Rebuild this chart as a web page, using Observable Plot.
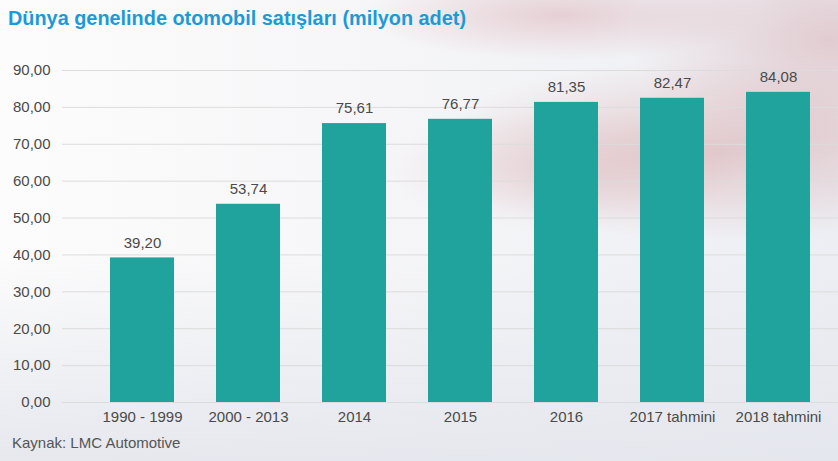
<!DOCTYPE html>
<html>
<head>
<meta charset="utf-8">
<script src="https://cdn.jsdelivr.net/npm/d3@7"></script>
<script src="https://cdn.jsdelivr.net/npm/@observablehq/plot@0.6"></script>
<style>
  html, body { margin: 0; padding: 0; }
  #wrap {
    position: relative; width: 838px; height: 461px; overflow: hidden;
    font-family: "Liberation Sans", Arial, sans-serif;
    background:
      radial-gradient(ellipse 200px 45px at 560px 15px, rgba(215,165,172,0.45), rgba(215,165,172,0) 100%),
      radial-gradient(ellipse 300px 90px at 720px 150px, rgba(205,140,142,0.40), rgba(205,140,142,0) 100%),
      radial-gradient(ellipse 200px 120px at 830px 40px, rgba(205,140,145,0.35), rgba(205,140,145,0) 100%),
      radial-gradient(ellipse 180px 60px at 560px 170px, rgba(210,160,165,0.25), rgba(210,160,165,0) 100%),
      linear-gradient(to bottom, rgba(255,255,255,0) 55%, rgba(228,230,237,0.9) 100%),
      linear-gradient(to right, #fcfcfc 0%, #f6f6f8 45%, #eceef3 100%);
  }
  #title {
    position: absolute; left: 8px; top: 6px;
    font-weight: bold; font-size: 21px; color: #1d9ad6;
    white-space: nowrap; transform-origin: 0 0;
  }
  #chart { position: absolute; left: 0; top: 40px; }
  #caption {
    position: absolute; left: 12px; top: 434px;
    font-size: 15px; color: #555;
  }
</style>
</head>
<body>
<div id="wrap">
  <div id="title">Dünya genelinde otomobil satışları (milyon adet)</div>
  <div id="chart"></div>
  <div id="caption">Kaynak: LMC Automotive</div>
</div>
<script>
const categories = ["1990 - 1999", "2000 - 2013", "2014", "2015", "2016", "2017 tahmini", "2018 tahmini"];
const values = [39.20, 53.74, 75.61, 76.77, 81.35, 82.47, 84.08];
const yTicks = [0, 10, 20, 30, 40, 50, 60, 70, 80, 90];

const data = categories.map((c, i) => ({category: c, value: values[i]}));
const fmt = v => v.toFixed(2).replace(".", ",");

// fit title width
const title = document.getElementById("title");
const tw = title.getBoundingClientRect().width;
title.style.transform = `scaleX(${458 / tw})`;

const chart = Plot.plot({
  width: 838,
  height: 390,
  marginLeft: 62,
  marginRight: 0,
  marginTop: 30,
  marginBottom: 28,
  style: {background: "transparent", fontFamily: "Liberation Sans, Arial, sans-serif", fontSize: "15px", color: "#4a4a4a"},
  x: {domain: categories, range: [86.7, 833.3], paddingInner: 0.4, paddingOuter: 0.2, label: null},
  y: {domain: [0, 90], label: null},
  marks: [
    Plot.ruleY(yTicks, {stroke: "#dcdcdc", strokeWidth: 1}),
    Plot.barY(data, {x: "category", y: "value", fill: "#20a39d"}),
    Plot.text(data, {x: "category", y: "value", text: d => fmt(d.value), dy: -15, fill: "#4a4a4a", fontSize: 15}),
    Plot.axisY({ticks: yTicks, tickFormat: fmt, tickSize: 0, tickPadding: 12, fontSize: 15, fill: "#4a4a4a"}),
    Plot.axisX({tickSize: 0, tickPadding: 9, fontSize: 15, fill: "#4a4a4a"})
  ]
});
document.getElementById("chart").appendChild(chart);
</script>
</body>
</html>
